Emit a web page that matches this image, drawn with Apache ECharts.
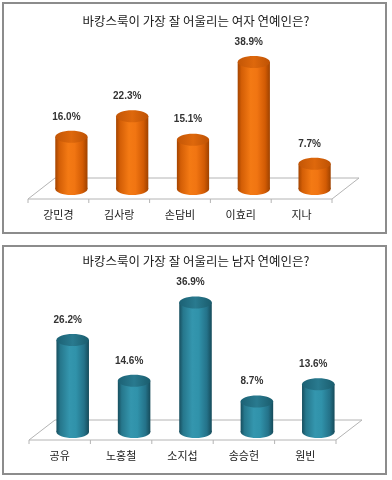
<!DOCTYPE html>
<html><head><meta charset="utf-8">
<script src="https://cdn.jsdelivr.net/npm/echarts@6/dist/echarts.min.js"></script>
<style>html,body{margin:0;padding:0;background:#fff}#c{width:392px;height:480px}</style>
</head><body><div id="c"></div>
<script>
const title1 = '바캉스룩이 가장 잘 어울리는 여자 연예인은?';
const cats1 = ['강민경', '김사랑', '손담비', '이효리', '지나'];
const vals1 = [16.0, 22.3, 15.1, 38.9, 7.7];
const title2 = '바캉스룩이 가장 잘 어울리는 남자 연예인은?';
const cats2 = ['공유', '노홍철', '소지섭', '송승헌', '원빈'];
const vals2 = [26.2, 14.6, 36.9, 8.7, 13.6];

const orange = {
  body: [[0,'#A44400'],[0.12,'#D35E06'],[0.4,'#F47A14'],[0.6,'#F17512'],[0.85,'#D25B04'],[1,'#9E4200']],
  top: [[0,'#C35606'],[0.5,'#DE680C'],[1,'#BE5204']]
};
const teal = {
  body: [[0,'#174E5E'],[0.12,'#26778C'],[0.4,'#3496AE'],[0.6,'#3092AA'],[0.85,'#247289'],[1,'#164B5A']],
  top: [[0,'#1C6174'],[0.5,'#297A8F'],[1,'#1A5C6D']]
};

function grad(stops){
  return new echarts.graphic.LinearGradient(0,0,1,0, stops.map(s=>({offset:s[0], color:s[1]})));
}

function cylinder(p, pal){
  return function(params, api){
    const i = api.value(0), v = api.value(1);
    const top = api.coord([i, v]);
    const base = api.coord([i, 0]);
    const bw = api.size([1,0])[0]*0.53;
    const cx = top[0] + p.dx;
    const yT = top[1] + p.dy, yB = base[1] + p.dy;
    const ry = 6;
    return {type:'group', children:[
      {type:'ellipse', shape:{cx:cx, cy:yB, rx:bw/2, ry:ry}, style:{fill:grad(pal.body)}},
      {type:'rect', shape:{x:cx-bw/2, y:yT, width:bw, height:yB-yT}, style:{fill:grad(pal.body)}},
      {type:'ellipse', shape:{cx:cx, cy:yT, rx:bw/2, ry:ry}, style:{fill:grad(pal.top)}},
      {type:'text', style:{text:v.toFixed(1)+'%', x:cx-5, y:yT-20, align:'center', verticalAlign:'middle',
        font:'bold 10px "Liberation Sans", Arial, sans-serif', fill:'#333'}}
    ]};
  };
}

function floor(p, n){
  return function(params, api){
    const c0 = api.coord([0,0]);
    const bw = api.size([1,0])[0];
    const L = c0[0]-bw/2, R = L + bw*n, Y = c0[1];
    const ch = [{type:'polygon', shape:{points:[[L,Y],[R,Y],[R+p.fdx,Y+p.fdy],[L+p.fdx,Y+p.fdy]]},
      style:{fill:'#fff', stroke:'#b4b4b4', lineWidth:1}}];
    for(let k=0;k<=n;k++){
      ch.push({type:'line', shape:{x1:L+bw*k, y1:Y, x2:L+bw*k, y2:Y+4}, style:{stroke:'#b4b4b4', lineWidth:1}});
    }
    return {type:'group', children:ch};
  };
}

const p1 = {dx:13, dy:-10, fdx:27, fdy:-21};
const p2 = {dx:13, dy:-8, fdx:26, fdy:-20};

const chart = echarts.init(document.getElementById('c'), null, {renderer:'canvas'});
const labelStyle = {fontSize:11, color:'#1a1a1a', fontFamily:'"Noto Sans CJK KR", sans-serif', margin:10};
const titleStyle = {fontSize:12.5, fontWeight:'normal', color:'#1a1a1a', fontFamily:'"Noto Sans CJK KR", sans-serif'};
chart.setOption({
  animation:false,
  backgroundColor:'#fff',
  graphic:[
    {type:'rect', shape:{x:3, y:3, width:383, height:230}, style:{fill:'#fff', stroke:'#8c8c8c', lineWidth:2}, z:-10},
    {type:'rect', shape:{x:3, y:246, width:383, height:228}, style:{fill:'#fff', stroke:'#8c8c8c', lineWidth:2}, z:-10}
  ],
  title:[
    {text:title1, left:'center', top:15, padding:0, textStyle:titleStyle},
    {text:title2, left:'center', top:255, padding:0, textStyle:titleStyle}
  ],
  grid:[
    {left:28, width:304, top:68.4, height:130.6},
    {left:29, width:307, top:299.6, height:140.4}
  ],
  xAxis:[
    {type:'category', gridIndex:0, data:cats1, axisLine:{show:false}, axisTick:{show:false}, axisLabel:labelStyle},
    {type:'category', gridIndex:1, data:cats2, axisLine:{show:false}, axisTick:{show:false}, axisLabel:labelStyle}
  ],
  yAxis:[
    {type:'value', gridIndex:0, min:0, max:40, show:false, splitLine:{show:false}},
    {type:'value', gridIndex:1, min:0, max:40, show:false, splitLine:{show:false}}
  ],
  series:[
    {type:'custom', xAxisIndex:0, yAxisIndex:0, data:[[0,0]], renderItem:floor(p1, cats1.length), silent:true, z:1},
    {type:'custom', xAxisIndex:1, yAxisIndex:1, data:[[0,0]], renderItem:floor(p2, cats2.length), silent:true, z:1},
    {type:'custom', xAxisIndex:0, yAxisIndex:0, data:vals1.map((v,i)=>[i,v]), encode:{x:0,y:1}, renderItem:cylinder(p1, orange), z:2},
    {type:'custom', xAxisIndex:1, yAxisIndex:1, data:vals2.map((v,i)=>[i,v]), encode:{x:0,y:1}, renderItem:cylinder(p2, teal), z:2}
  ]
});
</script></body></html>
